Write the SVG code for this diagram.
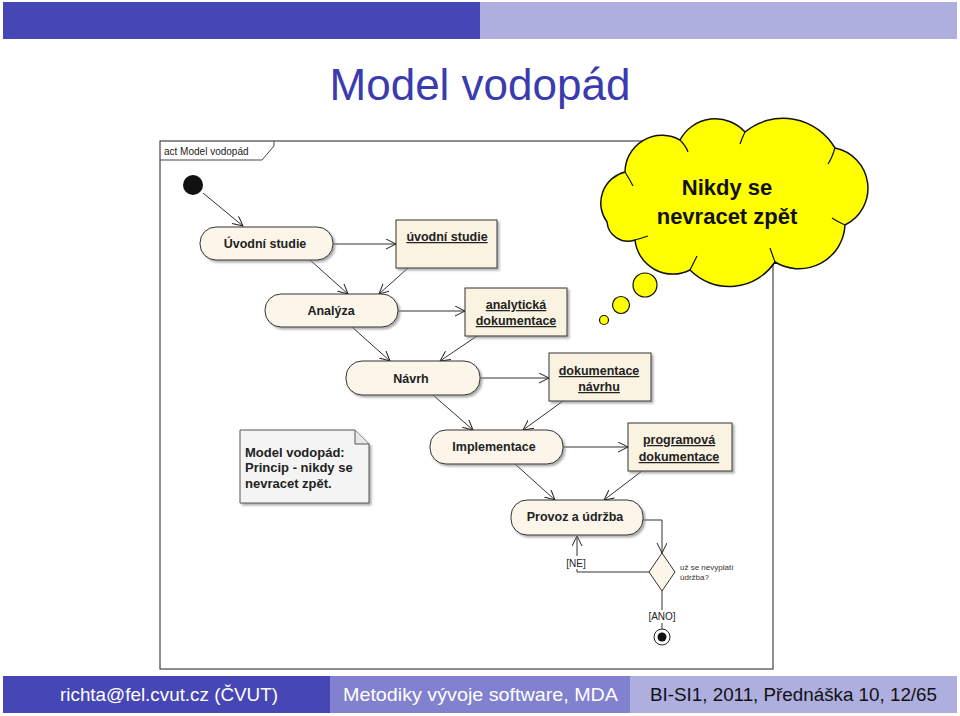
<svg xmlns="http://www.w3.org/2000/svg" width="960" height="716" viewBox="0 0 960 716">
<defs>
<marker id="open" markerWidth="12" markerHeight="12" refX="10" refY="5" orient="auto" markerUnits="userSpaceOnUse">
<path d="M0,0 L10,5 L0,10" fill="none" stroke="#222" stroke-width="1"/>
</marker>
<filter id="sh" x="-10%" y="-10%" width="130%" height="140%">
<feDropShadow dx="2" dy="2" stdDeviation="1" flood-color="#888" flood-opacity="0.7"/>
</filter>
</defs>
<style>
.act{fill:#fbf6e9;stroke:#333;stroke-width:1;filter:url(#sh)}
.obj{fill:#faf3e1;stroke:#333;stroke-width:1;filter:url(#sh)}
.lbl{font-family:"Liberation Sans",Arial,sans-serif;font-weight:bold;font-size:12.5px;fill:#222;text-anchor:middle}
.ul{text-decoration:underline}
.con{fill:none;stroke:#333;stroke-width:1}
.small{font-family:"Liberation Sans",Arial,sans-serif;font-size:10px;fill:#222}
.tiny{font-family:"Liberation Sans",Arial,sans-serif;font-size:8px;fill:#333}
.foot{font-family:"Liberation Sans",Arial,sans-serif;font-size:19px}
</style>
<rect width="960" height="716" fill="#fff"/>
<g id="header">
<rect x="3" y="2" width="477" height="37" fill="#4646b4"/>
<rect x="480" y="2" width="477" height="37" fill="#aeaedf"/>
</g>
<text x="480" y="100" text-anchor="middle" font-family="'Liberation Sans',Arial,sans-serif" font-size="44" fill="#3b3bb0">Model vodopád</text>
<g id="frame">
<rect x="160" y="141" width="613" height="528" fill="#fff" stroke="#444" stroke-width="1.2"/>
<path d="M160,160 L262,160 L274,146 L274,141" fill="none" stroke="#444" stroke-width="1"/>
<text x="164" y="155" class="small">act Model vodopád</text>
</g>
<g id="connectors">
<line class="con" x1="203" y1="193" x2="243" y2="226" marker-end="url(#open)"/>
<line class="con" x1="333" y1="244" x2="396" y2="244" marker-end="url(#open)"/>
<line class="con" x1="310" y1="260" x2="348" y2="294" marker-end="url(#open)"/>
<line class="con" x1="408" y1="268" x2="379" y2="294" marker-end="url(#open)"/>
<line class="con" x1="398" y1="311" x2="465" y2="311" marker-end="url(#open)"/>
<line class="con" x1="352" y1="327" x2="390" y2="361" marker-end="url(#open)"/>
<line class="con" x1="477" y1="336" x2="440" y2="361" marker-end="url(#open)"/>
<line class="con" x1="480" y1="378" x2="549" y2="378" marker-end="url(#open)"/>
<line class="con" x1="433" y1="395" x2="473" y2="430" marker-end="url(#open)"/>
<line class="con" x1="563" y1="401" x2="523" y2="430" marker-end="url(#open)"/>
<line class="con" x1="563" y1="447" x2="628" y2="447" marker-end="url(#open)"/>
<line class="con" x1="515" y1="464" x2="555" y2="500" marker-end="url(#open)"/>
<line class="con" x1="642" y1="471" x2="604" y2="500" marker-end="url(#open)"/>
<polyline class="con" points="643,520 662,520 662,553" marker-end="url(#open)"/>
<polyline class="con" points="649,572 577,572 577,569"/>
<line class="con" x1="577" y1="556" x2="577" y2="536" marker-end="url(#open)"/>
<line class="con" x1="662" y1="591" x2="662" y2="610"/>
<line class="con" x1="662" y1="623" x2="662" y2="629"/>
<text x="576" y="567" text-anchor="middle" class="small">[NE]</text>
<text x="662" y="620" text-anchor="middle" class="small">[ANO]</text>
</g>
<g id="start"><circle cx="193" cy="185" r="10" fill="#111"/></g>
<g id="uvodni-studie">
<rect class="act" x="200" y="227" width="133" height="33" rx="16"/>
<text class="lbl" x="265" y="248">Úvodní studie</text>
</g>
<g id="obj-uvodni-studie">
<rect class="obj" x="396" y="220" width="101" height="48"/>
<text class="lbl ul" x="447" y="241">úvodní studie</text>
</g>
<g id="analyza">
<rect class="act" x="265" y="294" width="133" height="33" rx="16"/>
<text class="lbl" x="331" y="315">Analýza</text>
</g>
<g id="obj-analyticka">
<rect class="obj" x="465" y="288" width="102" height="48"/>
<text class="lbl ul" x="516" y="309">analytická</text>
<text class="lbl ul" x="516" y="325">dokumentace</text>
</g>
<g id="navrh">
<rect class="act" x="346" y="361" width="134" height="34" rx="16"/>
<text class="lbl" x="411" y="383">Návrh</text>
</g>
<g id="obj-navrhu">
<rect class="obj" x="549" y="353" width="102" height="48"/>
<text class="lbl ul" x="599" y="375">dokumentace</text>
<text class="lbl ul" x="599" y="391">návrhu</text>
</g>
<g id="implementace">
<rect class="act" x="430" y="430" width="133" height="34" rx="16"/>
<text class="lbl" x="494" y="451">Implementace</text>
</g>
<g id="obj-programova">
<rect class="obj" x="628" y="423" width="104" height="48"/>
<text class="lbl ul" x="679" y="444">programová</text>
<text class="lbl ul" x="679" y="461">dokumentace</text>
</g>
<g id="provoz">
<rect class="act" x="511" y="500" width="132" height="35" rx="16"/>
<text class="lbl" x="575" y="521">Provoz a údržba</text>
</g>
<g id="decision">
<polygon points="662,553 675,572 662,591 649,572" fill="#fbf6e9" stroke="#333"/>
<text class="tiny" x="680" y="570">už se nevyplatí</text>
<text class="tiny" x="680" y="580">údržba?</text>
</g>
<g id="end">
<circle cx="662" cy="637" r="8" fill="#fff" stroke="#222"/>
<circle cx="662" cy="637" r="4.5" fill="#111"/>
</g>
<g id="note">
<path d="M240,430 L355,430 L369,444 L369,503 L240,503 Z" fill="#f4f4f4" stroke="#555" filter="url(#sh)"/>
<path d="M355,430 L355,444 L369,444" fill="#e8e8e8" stroke="#555"/>
<text font-family="'Liberation Sans',Arial,sans-serif" font-weight="bold" font-size="13" fill="#222">
<tspan x="245" y="457">Model vodopád:</tspan>
<tspan x="245" y="472">Princip - nikdy se</tspan>
<tspan x="245" y="488">nevracet zpět.</tspan>
</text>
</g>
<g id="cloud">
<path d="M607,222 A32,32 0 0 1 625,172 A37,37 0 0 1 680,140 A40,40 0 0 1 745,132 A60,60 0 0 1 835,148 A41,41 0 0 1 845,225 A46,46 0 0 1 775,262 A55,55 0 0 1 690,270 A38,38 0 0 1 635,240 A21,21 0 0 1 607,222 Z" fill="#ffff00" stroke="#111" stroke-width="1.5"/>
<path d="M625,172 Q630,180 633,186 M680,140 Q686,146 688,152 M745,132 Q742,138 740,144 M835,148 Q832,158 828,164 M845,225 Q838,222 832,218 M775,262 Q772,254 770,248 M690,270 Q694,262 697,256 M635,240 Q642,238 648,236" fill="none" stroke="#111" stroke-width="1.2"/>
<circle cx="645" cy="285" r="12" fill="#ffff00" stroke="#111" stroke-width="1.2"/>
<circle cx="621" cy="305" r="8.5" fill="#ffff00" stroke="#111" stroke-width="1.2"/>
<circle cx="604" cy="320" r="4.5" fill="#ffff00" stroke="#111" stroke-width="1.2"/>
<text x="727" y="195" text-anchor="middle" font-family="'Liberation Sans',Arial,sans-serif" font-size="22" font-weight="bold" fill="#111">Nikdy se</text>
<text x="727" y="224" text-anchor="middle" font-family="'Liberation Sans',Arial,sans-serif" font-size="22" font-weight="bold" fill="#111">nevracet zpět</text>
</g>
<g id="footer">
<rect x="3" y="676" width="327" height="37" fill="#4646b4"/>
<rect x="330" y="676" width="300" height="37" fill="#8181cf"/>
<rect x="630" y="676" width="327" height="37" fill="#aeaedf"/>
<text class="foot" x="60" y="701" fill="#fff" textLength="218" lengthAdjust="spacingAndGlyphs">richta@fel.cvut.cz (ČVUT)</text>
<text class="foot" x="343" y="701" fill="#fff" textLength="275" lengthAdjust="spacingAndGlyphs">Metodiky vývoje software, MDA</text>
<text class="foot" x="650" y="701" fill="#111" textLength="287" lengthAdjust="spacingAndGlyphs">BI-SI1, 2011, Přednáška 10, 12/65</text>
</g>
</svg>
